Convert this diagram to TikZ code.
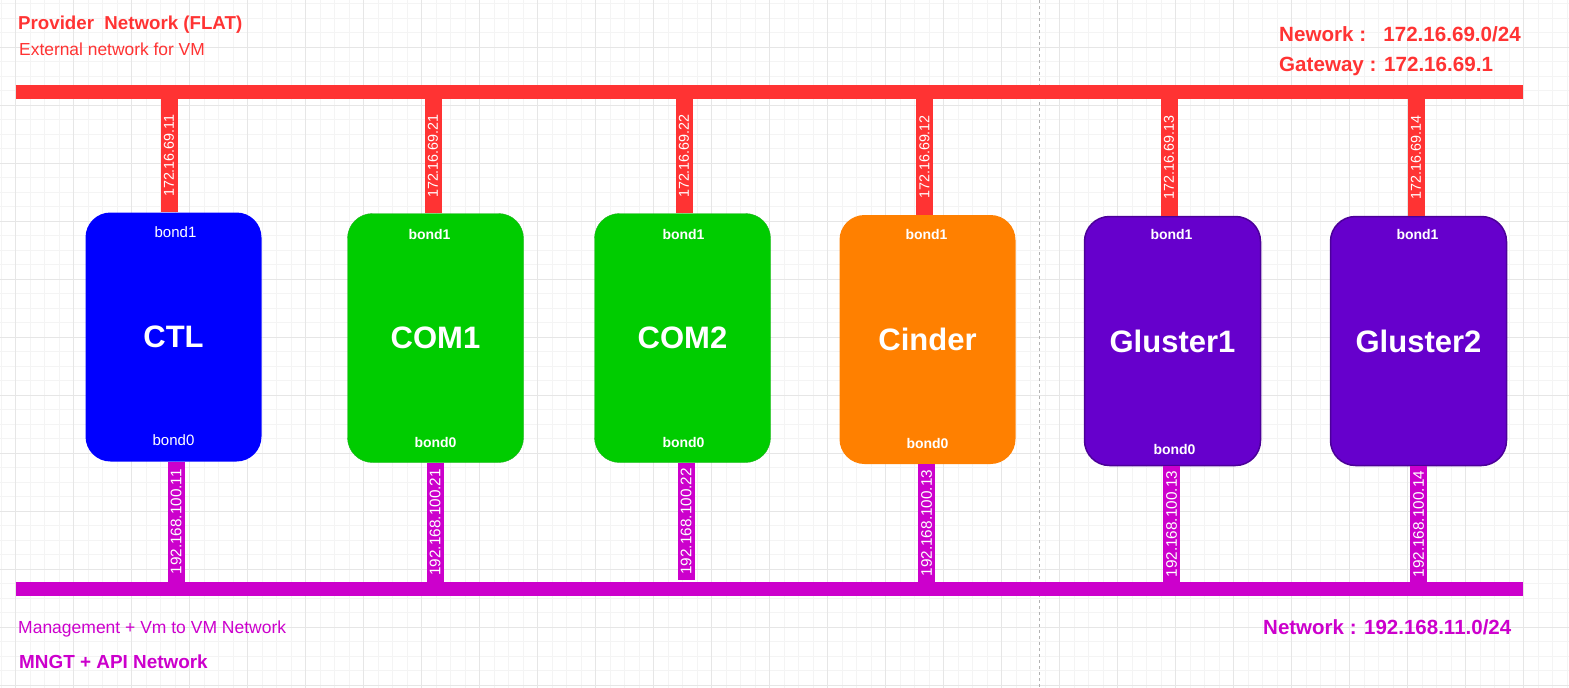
\documentclass[tikz,border=0pt]{standalone}
\usepackage{fontspec}
\setmainfont{Liberation Sans}
\usepackage{tikz}
\usepackage{xcolor}
\usetikzlibrary{calc}

\definecolor{extred}{HTML}{FF3333}
\definecolor{mgmtpink}{HTML}{CC00CC}
\definecolor{ctlblue}{HTML}{0000FF}
\definecolor{comgreen}{HTML}{00CC00}
\definecolor{comedge}{HTML}{1FB01F}
\definecolor{cinderorange}{HTML}{FF8000}
\definecolor{glpurple}{HTML}{6600CC}
\definecolor{gledge}{HTML}{4C0099}
\definecolor{gridminor}{HTML}{F4F4F4}
\definecolor{gridmajor}{HTML}{E6E6E6}

\tikzset{
    host/.style={rounded corners=25, minimum width=176, minimum height=249, inner sep=0,
        text=white, font=\bfseries\fontsize{31}{31}\selectfont},
    bondlbl/.style={text=white, inner sep=0, anchor=base, font=\bfseries\fontsize{14}{14}\selectfont},
    extlink/.style={draw=extred, line width=17},
    mgmtlink/.style={draw=mgmtpink, line width=17},
    iplbl/.style={midway, rotate=90, text=white, inner sep=0, font=\fontsize{14.3}{14}\selectfont},
    mgmtiplbl/.style={iplbl, font=\fontsize{15.3}{15}\selectfont},
    netlbl/.style={anchor=base west, inner sep=0}
}

\begin{document}
\begin{tikzpicture}[x=1pt,y=-1pt]
    % Define parameters
    \def\barwidth{14}
    \useasboundingbox (0,0) rectangle (1569,688);

    % Background grid
    \foreach \gx in {1.2,15.7,...,1569} \draw[gridminor,line width=0.8] (\gx,0) -- (\gx,688);
    \foreach \gy in {3.5,18,...,688} \draw[gridminor,line width=0.8] (0,\gy) -- (1569,\gy);
    \foreach \gx in {15.7,73.7,...,1569} \draw[gridmajor,line width=0.9] (\gx,0) -- (\gx,688);
    \foreach \gy in {47,105,...,688} \draw[gridmajor,line width=0.9] (0,\gy) -- (1569,\gy);
    \draw[black!30, line width=0.8, dash pattern=on 3pt off 3pt] (1039.5,0) -- (1039.5,688);

% Network bars
    \coordinate (ext-w) at (15.7,92);
    \coordinate (ext-e) at (1523,92);
    \coordinate (mgmt-w) at (15.7,589);
    \coordinate (mgmt-e) at (1523,589);
    \draw[extred, line width=\barwidth] (ext-w) -- (ext-e);
    \draw[mgmtpink, line width=\barwidth] (mgmt-w) -- (mgmt-e);

% Hosts
    \node[host, fill=ctlblue] (ctl) at (173.5,337) {CTL};
    \node[host, fill=comgreen, draw=comedge] (com1) at (435.5,338) {COM1};
    \node[host, fill=comgreen, draw=comedge] (com2) at (682.5,338) {COM2};
    \node[host, fill=cinderorange] (cinder) at (927.5,339.5) {Cinder};
    \node[host, fill=glpurple, draw=gledge, line width=1.5] (gluster1) at (1172.5,341) {Gluster1};
    \node[host, fill=glpurple, draw=gledge, line width=1.5] (gluster2) at (1418.5,341) {Gluster2};

    % bond labels
    \node[bondlbl, font=\fontsize{15}{15}\selectfont] (ctl-b1) at ($(ctl.north)+(2,25.5)$) {bond1};
    \node[bondlbl, font=\fontsize{15}{15}\selectfont] (ctl-b0) at ($(ctl.south)+(0,-16)$) {bond0};
    \node[bondlbl] (com1-b1) at ($(com1.north)+(-6,26)$) {bond1};
    \node[bondlbl] (com1-b0) at ($(com1.south)+(0,-15)$) {bond0};
    \node[bondlbl] (com2-b1) at ($(com2.north)+(1,26)$) {bond1};
    \node[bondlbl] (com2-b0) at ($(com2.south)+(1,-15)$) {bond0};
    \node[bondlbl] (cinder-b1) at ($(cinder.north)+(-1,25)$) {bond1};
    \node[bondlbl] (cinder-b0) at ($(cinder.south)+(0,-16)$) {bond0};
    \node[bondlbl] (gluster1-b1) at ($(gluster1.north)+(-1,24)$) {bond1};
    \node[bondlbl] (gluster1-b0) at ($(gluster1.south)+(2,-12)$) {bond0};
    \node[bondlbl] (gluster2-b1) at ($(gluster2.north)+(-1,24)$) {bond1};

% Provider links
    \coordinate (ctl-ext) at (169,99);
    \coordinate (com1-ext) at (433,99);
    \coordinate (com2-ext) at (684,99);
    \coordinate (cinder-ext) at (924.5,99);
    \coordinate (gluster1-ext) at (1169,99);
    \coordinate (gluster2-ext) at (1416,99);
    \draw[extlink] (ctl-ext) -- (ctl-ext |- ctl.north) node[iplbl] {172.16.69.11};
    \draw[extlink] (com1-ext) -- (com1-ext |- com1.north) node[iplbl] {172.16.69.21};
    \draw[extlink] (com2-ext) -- (com2-ext |- com2.north) node[iplbl] {172.16.69.22};
    \draw[extlink] (cinder-ext) -- (cinder-ext |- cinder.north) node[iplbl] {172.16.69.12};
    \draw[extlink] (gluster1-ext) -- (gluster1-ext |- gluster1.north) node[iplbl] {172.16.69.13};
    \draw[extlink] (gluster2-ext) -- (gluster2-ext |- gluster2.north) node[iplbl] {172.16.69.14};

% Management links
    \coordinate (ctl-mgmt) at (176,582);
    \coordinate (com1-mgmt) at (435,582);
    \coordinate (com2-mgmt) at (686,580);
    \coordinate (cinder-mgmt) at (926.5,582);
    \coordinate (gluster1-mgmt) at (1171.5,582);
    \coordinate (gluster2-mgmt) at (1418.5,582);
    \draw[mgmtlink] (ctl-mgmt |- ctl.south) -- (ctl-mgmt) node[mgmtiplbl] {192.168.100.11};
    \draw[mgmtlink] (com1-mgmt |- com1.south) -- (com1-mgmt) node[mgmtiplbl] {192.168.100.21};
    \draw[mgmtlink] (com2-mgmt |- com2.south) -- (com2-mgmt) node[mgmtiplbl] {192.168.100.22};
    \draw[mgmtlink] (cinder-mgmt |- cinder.south) -- (cinder-mgmt) node[mgmtiplbl] {192.168.100.13};
    \draw[mgmtlink] (gluster1-mgmt |- gluster1.south) -- (gluster1-mgmt) node[mgmtiplbl] {192.168.100.13};
    \draw[mgmtlink] (gluster2-mgmt |- gluster2.south) -- (gluster2-mgmt) node[mgmtiplbl] {192.168.100.14};

% Network notes
    \node[netlbl, text=extred, font=\bfseries\fontsize{18.7}{20}\selectfont] (ext-title) at (18,29.5) {Provider\ \ Network (FLAT)};
    \node[netlbl, text=extred, font=\fontsize{17.4}{20}\selectfont] (ext-note) at (19,55) {External network for VM};
    \node[netlbl, text=extred, font=\bfseries\fontsize{20.6}{22}\selectfont] (ext-net) at (1279,41) {Nework :\ \ \ 172.16.69.0/24};
    \node[netlbl, text=extred, font=\bfseries\fontsize{20.6}{22}\selectfont] (ext-gw) at (1279,71) {Gateway : 172.16.69.1};
    \node[netlbl, text=mgmtpink, font=\fontsize{17.5}{20}\selectfont] (mgmt-note) at (18,633) {Management + Vm to VM Network};
    \node[netlbl, text=mgmtpink, font=\bfseries\fontsize{18.9}{20}\selectfont] (mgmt-title) at (19,668) {MNGT + API Network};
    \node[netlbl, text=mgmtpink, font=\bfseries\fontsize{20.5}{22}\selectfont] (mgmt-net) at (1263,634) {Network : 192.168.11.0/24};

\end{tikzpicture}
\end{document}
